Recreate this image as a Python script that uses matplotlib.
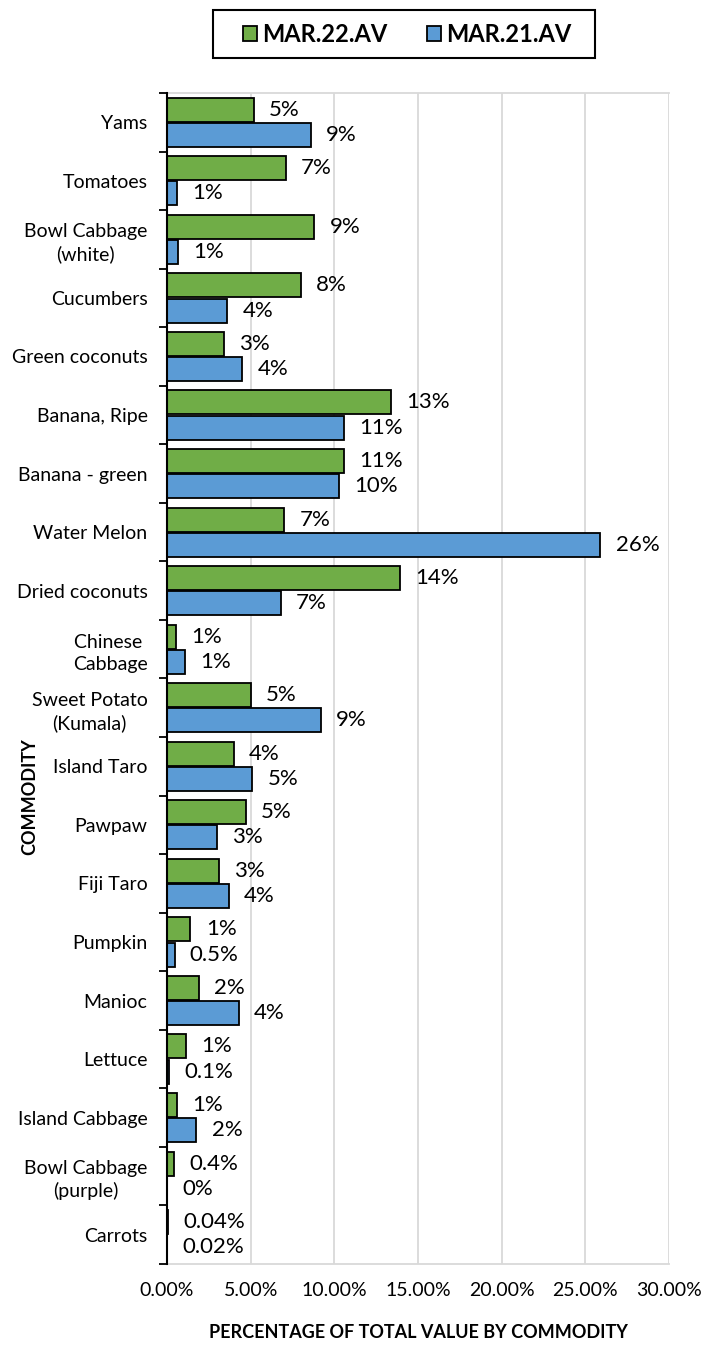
import matplotlib.pyplot as plt
import matplotlib.ticker as mtick
from matplotlib.patches import Rectangle
import numpy as np

plt.rcParams['font.family'] = ['Lato', 'DejaVu Sans']

commodities = ['Yams', 'Tomatoes', 'Bowl Cabbage\n(white)', 'Cucumbers', 'Green coconuts',
               'Banana, Ripe', 'Banana - green', 'Water Melon', 'Dried coconuts',
               'Chinese \nCabbage', 'Sweet Potato\n(Kumala)', 'Island Taro', 'Pawpaw',
               'Fiji Taro', 'Pumpkin', 'Manioc', 'Lettuce', 'Island Cabbage',
               'Bowl Cabbage\n(purple)', 'Carrots']

mar22 = [5.2, 7.1, 8.8, 8.0, 3.4, 13.4, 10.6, 7.0, 13.9, 0.55,
         5.0, 4.0, 4.7, 3.1, 1.4, 1.9, 1.15, 0.6, 0.4, 0.04]
mar21 = [8.6, 0.6, 0.65, 3.6, 4.5, 10.6, 10.3, 25.9, 6.8, 1.05,
         9.2, 5.1, 3.0, 3.7, 0.45, 4.3, 0.1, 1.75, 0.0, 0.02]

labels22 = ['5%', '7%', '9%', '8%', '3%', '13%', '11%', '7%', '14%', '1%',
            '5%', '4%', '5%', '3%', '1%', '2%', '1%', '1%', '0.4%', '0.04%']
labels21 = ['9%', '1%', '1%', '4%', '4%', '11%', '10%', '26%', '7%', '1%',
            '9%', '5%', '3%', '4%', '0.5%', '4%', '0.1%', '2%', '0%', '0.02%']

green = '#70AD47'
blue = '#5B9BD5'

W, H = 701, 1354
fig = plt.figure(figsize=(W / 100, H / 100), dpi=100)
ax = fig.add_axes([167 / W, 1 - 1264 / H, (669 - 167) / W, (1264 - 93) / H])

y = np.arange(len(commodities))
h = 0.41
off = 0.215

b22 = ax.barh(y - off, mar22, height=h, color=green, edgecolor='black', linewidth=1.3,
              label='MAR.22.AV', zorder=3)
b21 = ax.barh(y + off, mar21, height=h, color=blue, edgecolor='black', linewidth=1.3,
              label='MAR.21.AV', zorder=3)

ax.bar_label(b22, labels=labels22, padding=11, fontsize=16)
ax.bar_label(b21, labels=labels21, padding=11, fontsize=16)

ax.set_xlim(0, 30)
ax.set_ylim(len(commodities) - 0.5, -0.5)
ax.xaxis.set_major_locator(mtick.MultipleLocator(5))
ax.xaxis.set_major_formatter(mtick.PercentFormatter(decimals=2))
ax.tick_params(axis='x', length=0, labelsize=14, pad=13)

# category boundaries get tick marks, centres get labels
ax.set_yticks(np.arange(-0.5, len(commodities), 1.0))
ax.set_yticklabels([])
ax.tick_params(axis='y', which='major', length=6, width=1.3, direction='out')
ax.set_yticks(y, minor=True)
ax.set_yticklabels(commodities, minor=True, fontsize=14, ha='right',
                   multialignment='center', linespacing=1.35)
ax.tick_params(axis='y', which='minor', length=0, pad=14)

ax.grid(axis='x', color='#d9d9d9', linewidth=1.3, zorder=0)
for s in ['top', 'bottom']:
    ax.spines[s].set_color('#d9d9d9')
    ax.spines[s].set_linewidth(1.3)
ax.spines['right'].set_visible(False)
ax.spines['left'].set_linewidth(1.5)
ax.spines['left'].set_zorder(4)

ax.set_xlabel('PERCENTAGE OF TOTAL VALUE BY COMMODITY', fontsize=13, fontweight='bold',
              labelpad=18)
fig.text(30 / W, 1 - 797 / H, 'COMMODITY', rotation=90, fontsize=13, fontweight='bold',
         ha='center', va='center')

leg = fig.legend(handles=[b22, b21], loc='center', bbox_to_anchor=(407 / W, 1 - 34 / H),
                 ncol=2, frameon=False, prop={'size': 17, 'weight': 'bold'},
                 handlelength=0.6, handleheight=0.6, handletextpad=0.2, columnspacing=1.7)
fig.patches.append(Rectangle((213 / W, 1 - 58 / H), (595 - 213) / W, 48 / H,
                             transform=fig.transFigure, fill=False, edgecolor='black',
                             linewidth=1.5))

fig.savefig('out.png', dpi=100)
